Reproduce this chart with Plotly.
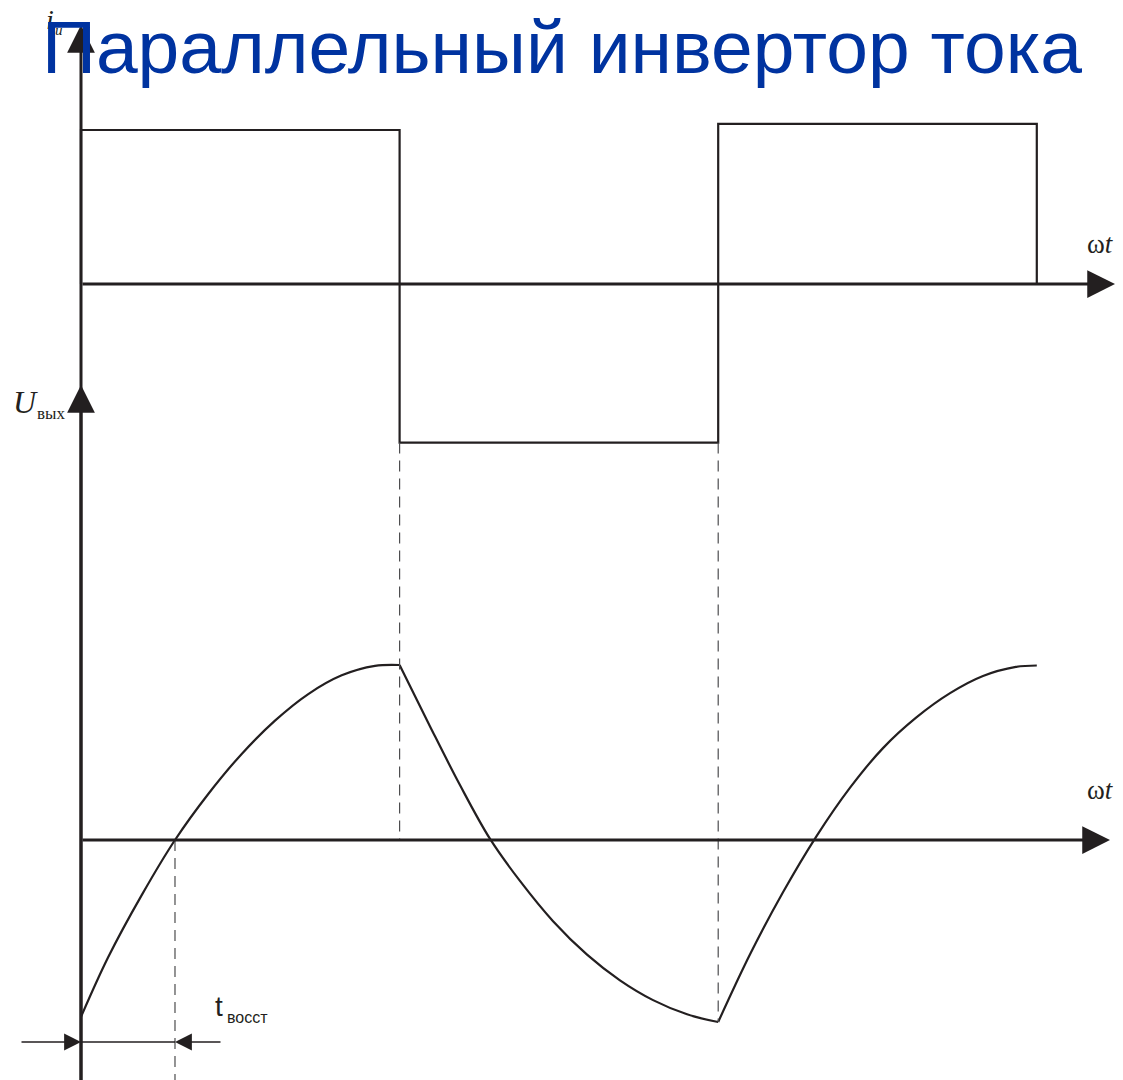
import plotly.graph_objects as go

# page geometry (pixels of the 1123x1080 page) - only used to place axes and labels
PAGE_W, PAGE_H = 1123, 1080
OFF = 8                              # default body margin of the html page
FW, FH = PAGE_W - OFF, PAGE_H - OFF  # figure size
X0_PX, PX_PER_DEG = 81, 1.77         # omega*t = 0 at x=81 px
I0_PX, PX_PER_I = 284, 154           # current axis (top panel)
U0_PX, PX_PER_U = 840, 175           # voltage axis (bottom panel)

INK = "#231f20"
DASH_INK = "#4d4d4f"

# inverter current i_и, square wave (omega*t in degrees, relative units)
i_deg = [0, 0, 180, 180, 360, 360, 540, 540]
i_val = [0, 1.0, 1.0, -1.03, -1.03, 1.04, 1.04, 0]

# output voltage U_вых, one list per half period
u1_deg = [0, 15.4, 34.3, 53.1, 71.9, 90.8, 109.6, 128.4, 147.3, 166.1, 180]
u1_val = [-1.011, -0.669, -0.315, 0.0, 0.263, 0.492, 0.682, 0.834, 0.941, 0.995, 1.0]
u2_deg = [180, 197.2, 214.1, 231.1, 248.0, 266.7, 285.9, 304.5, 323.2, 342.4, 360]
u2_val = [1.0, 0.649, 0.314, 0.006, -0.234, -0.464, -0.655, -0.802, -0.915, -0.996, -1.04]
u3_deg = [360, 378.0, 396.6, 415.3, 434.5, 453.1, 471.8, 491.0, 509.6, 528.2, 540]
u3_val = [-1.04, -0.653, -0.299, 0.018, 0.299, 0.525, 0.699, 0.839, 0.937, 0.989, 0.997]

# switching instants and recovery interval
switch_deg = [180, 360]
t_recovery = [0, 53.1]


def to_fig_x(p):
    return (p - X0_PX) / PX_PER_DEG


def i_to_u(v):
    # convert a current-axis value to the voltage axis (same screen height)
    p = I0_PX - v * PX_PER_I
    return (U0_PX - p) / PX_PER_U


def px(x):
    return (x - OFF) / FW


def py(y):
    return 1 - (y - OFF) / FH


fig = go.Figure()

fig.add_trace(go.Scatter(x=i_deg, y=i_val, mode="lines", line=dict(color=INK, width=2.2),
                         hoverinfo="skip", yaxis="y"))
for xs, ys in [(u1_deg, u1_val), (u2_deg, u2_val), (u3_deg, u3_val)]:
    fig.add_trace(go.Scatter(x=xs, y=ys, mode="lines",
                             line=dict(color=INK, width=2.2, shape="spline", smoothing=1.0),
                             hoverinfo="skip", yaxis="y2"))

x_min = (OFF - X0_PX) / PX_PER_DEG
x_max = (OFF + FW - X0_PX) / PX_PER_DEG
i_top = (I0_PX - OFF) / PX_PER_I
i_bottom = (I0_PX - OFF - FH) / PX_PER_I
u_top = (U0_PX - OFF) / PX_PER_U
u_bottom = (U0_PX - OFF - FH) / PX_PER_U

dash = dict(color=DASH_INK, width=1.2, dash="11px,7px")
low_i = min(i_val)
shapes = [
    dict(type="line", xref="x", yref="y2", x0=switch_deg[0], x1=switch_deg[0],
         y0=i_to_u(low_i), y1=0, line=dash),
    dict(type="line", xref="x", yref="y2", x0=switch_deg[1], x1=switch_deg[1],
         y0=i_to_u(low_i), y1=min(u2_val), line=dash),
    dict(type="line", xref="x", yref="y2", x0=t_recovery[1], x1=t_recovery[1],
         y0=0, y1=u_bottom, line=dash),
]

t_y = (U0_PX - 1042) / PX_PER_U
shapes.append(dict(type="line", xref="x", yref="y2", x0=t_recovery[0], x1=t_recovery[1],
                   y0=t_y, y1=t_y, line=dict(color=INK, width=1.3)))

annotations = []


def arrow(x, y, ax, ay, yref, width, size):
    annotations.append(dict(x=x, y=y, ax=ax, ay=ay, xref="x", yref=yref,
                            axref="x", ayref=yref, text="", showarrow=True,
                            arrowhead=2, arrowwidth=width, arrowsize=size,
                            arrowcolor=INK, standoff=0))


# coordinate axes
arrow(0, (I0_PX - 25) / PX_PER_I, 0, i_bottom - 0.1, "y", 3, 1.85)
arrow(to_fig_x(1115), 0, 0, 0, "y", 3, 1.85)
arrow(0, (U0_PX - 385) / PX_PER_U, 0, u_bottom - 0.1, "y2", 3, 1.85)
arrow(to_fig_x(1110), 0, 0, 0, "y2", 3, 1.85)

# recovery time arrows
arrow(t_recovery[0], t_y, to_fig_x(20), t_y, "y2", 1.3, 2.6)
arrow(t_recovery[1], t_y, to_fig_x(222), t_y, "y2", 1.3, 2.6)


def label(text, x, y, size, family, xanchor="left"):
    annotations.append(dict(text=text, x=px(x), y=py(y), xref="paper", yref="paper",
                            xanchor=xanchor, yanchor="middle", showarrow=False,
                            font=dict(size=size, family=family, color=INK)))


serif = "Liberation Serif"
sans = "Liberation Sans"
label("<i>i</i>", 44, 20, 28, serif)
label("<i>и</i>", 53, 30, 15, serif)
label("<i>U</i>", 11, 402, 32, serif)
label("вых", 35, 413, 17, serif)
label("ω<i>t</i>", 1100, 244, 27, serif, "center")
label("ω<i>t</i>", 1100, 790, 27, serif, "center")
label("t", 213, 1006, 28, sans)
label("восст", 225, 1017, 16, sans)

# title on top
annotations.append(dict(text="Параллельный инвертор тока", x=px(562), y=py(47),
                        xref="paper", yref="paper", xanchor="center", yanchor="middle",
                        showarrow=False, font=dict(size=75, family=sans, color="#0033a0")))

fig.update_layout(
    width=FW, height=FH,
    margin=dict(l=0, r=0, t=0, b=0),
    paper_bgcolor="white", plot_bgcolor="white",
    showlegend=False,
    xaxis=dict(range=[x_min, x_max], visible=False, fixedrange=True),
    yaxis=dict(range=[i_bottom, i_top], visible=False, fixedrange=True),
    yaxis2=dict(range=[u_bottom, u_top], visible=False, overlaying="y", fixedrange=True),
    shapes=shapes,
    annotations=annotations,
)

fig.write_html("out.html", config={"displayModeBar": False})
